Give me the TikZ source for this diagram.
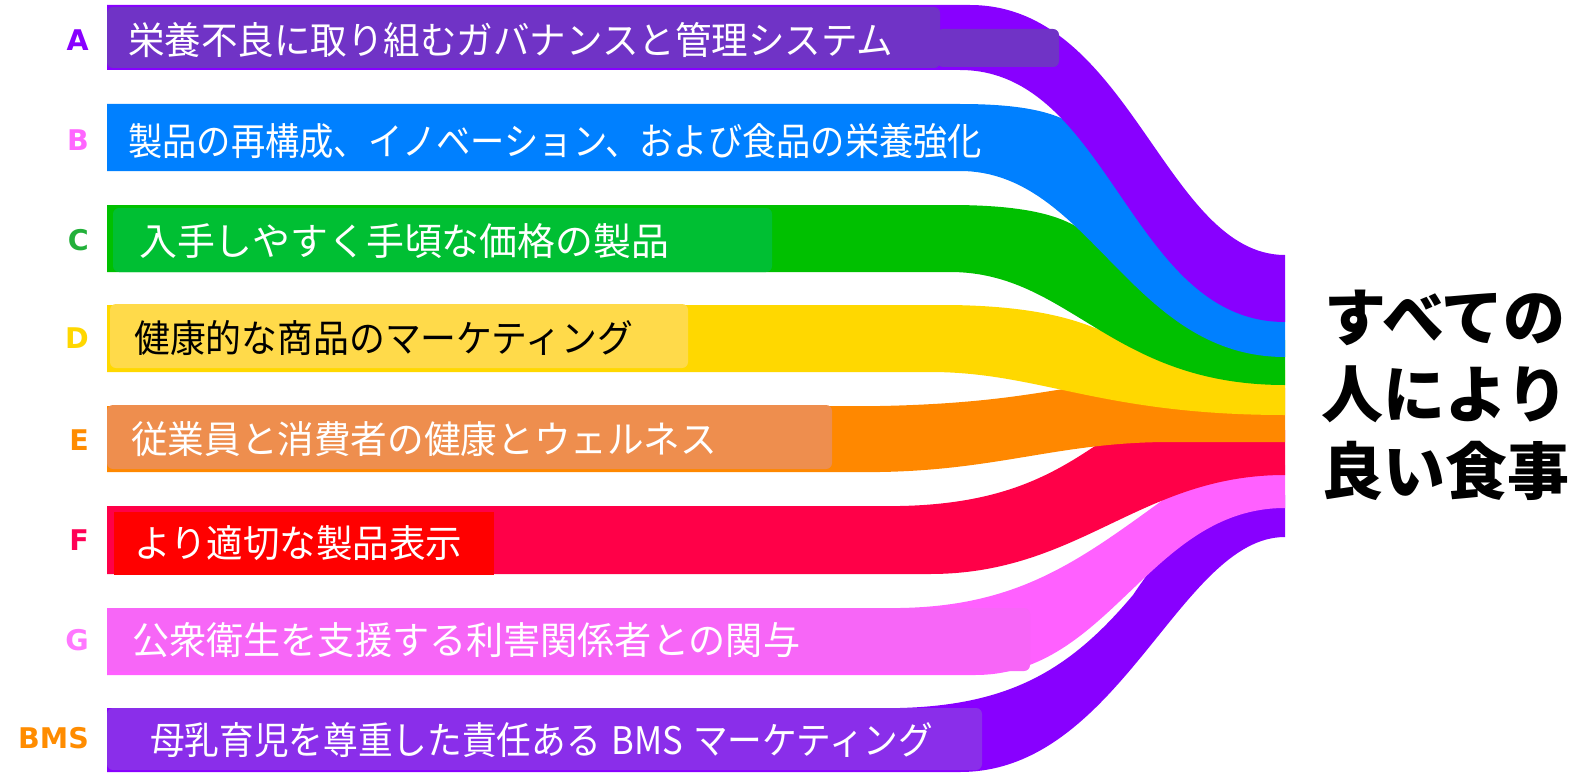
\documentclass[tikz,border=0pt]{standalone}
\usepackage{fontspec}
\usepackage{graphicx}
\setmainfont{Noto Sans CJK JP}
\newfontfamily\latf{DejaVu Sans}
\definecolor{rA}{HTML}{8800FF}
\definecolor{rB}{HTML}{0080FF}
\definecolor{rC}{HTML}{00C000}
\definecolor{rD}{HTML}{FFD800}
\definecolor{rE}{HTML}{FF8800}
\definecolor{rF}{HTML}{FF0048}
\definecolor{rG}{HTML}{FF60FF}
\definecolor{rH}{HTML}{8800FF}
\definecolor{bA}{HTML}{7033C6}
\definecolor{bC}{HTML}{00BF33}
\definecolor{bD}{HTML}{FFDA4A}
\definecolor{bE}{HTML}{EE8E4E}
\definecolor{bF}{HTML}{FF0000}
\definecolor{bG}{HTML}{F766F7}
\definecolor{bH}{HTML}{8A2EEA}
\definecolor{lB}{HTML}{FF66FF}
\definecolor{lC}{HTML}{22B03A}
\definecolor{lD}{HTML}{FFD700}
\definecolor{lE}{HTML}{FF8C00}
\definecolor{lF}{HTML}{FF0055}
\definecolor{lG}{HTML}{FF77FF}
\tikzset{
  lbl/.style={anchor=west, inner sep=0pt, text=white, font=\fontsize{38}{40}\selectfont},
  letr/.style={anchor=east, inner sep=0pt, font=\latf\bfseries\fontsize{28.5}{30}\selectfont},
  tbox/.style={rounded corners=6pt},
}
\newcommand{\fitw}[2]{\resizebox{#1pt}{\height}{#2}}
\begin{document}
\begin{tikzpicture}[x=1pt,y=-1pt]
\useasboundingbox (0,0) rectangle (1590,773);
% ribbons, drawn bottom to top
\fill[rH] (107,708) -- (900,708) .. controls (1010,705) and (1070,670) .. (1133,595) .. controls (1170,540) and (1210,495) .. (1285,495) -- (1285,537) .. controls (1180,537) and (1120,772) .. (960,772) -- (107,772) -- cycle;
\fill[rG] (107,608) -- (900,608) .. controls (1020,606) and (1080,560) .. (1167,497) .. controls (1200,475) and (1240,465) .. (1285,465) -- (1285,508) .. controls (1150,508) and (1110,675) .. (975,675) -- (107,675) -- cycle;
\fill[rF] (107,506) -- (900,506) .. controls (1000,504) and (1050,476) .. (1095,446) .. controls (1130,435) and (1200,430) .. (1285,430) -- (1285,475) .. controls (1140,475) and (1080,574) .. (930,574) -- (107,574) -- cycle;
\fill[rE] (107,406) -- (880,406) .. controls (980,404) and (1030,394) .. (1070,388) -- (1285,388) -- (1285,442) -- (1170,442) .. controls (1060,442) and (1000,470) .. (880,472) -- (107,472) -- cycle;
\fill[rD] (107,305) -- (950,305) .. controls (1030,306) and (1070,318) .. (1095,328) .. controls (1150,350) and (1200,365) .. (1285,370) -- (1285,415) .. controls (1100,415) and (1040,372) .. (930,372) -- (107,372) -- cycle;
\fill[rC] (107,205) -- (950,205) .. controls (1040,205) and (1070,220) .. (1090,236) .. controls (1140,280) and (1200,330) .. (1285,340) -- (1285,385) .. controls (1110,385) and (1070,272) .. (950,272) -- (107,272) -- cycle;
\fill[rB] (107,104) -- (960,104) .. controls (1060,104) and (1080,125) .. (1100,150) .. controls (1150,210) and (1200,290) .. (1285,300) -- (1285,357) .. controls (1130,357) and (1090,171) .. (960,171) -- (107,171) -- cycle;
\fill[rA] (107,5) -- (970,5) .. controls (1130,5) and (1165,255) .. (1285,255) -- (1285,322) .. controls (1130,322) and (1110,70) .. (960,70) -- (107,70) -- cycle;
% text boxes
\fill[bA, tbox] (107,7) rectangle (940,68);
\fill[bA, tbox] (937,29) rectangle (1059,67);
\fill[bC, tbox] (113,208) rectangle (772,272);
\fill[bD, tbox] (110,304) rectangle (688,368);
\fill[bE, tbox] (107,405) rectangle (832,469);
\fill[bF] (114,512) rectangle (494,575);
\fill[bG, tbox] (107,608) rectangle (1030,671);
\fill[bH, tbox] (107,708) rectangle (982,770);
% texts
\node[lbl] (tA) at (128,40) {\fitw{765}{栄養不良に取り組むガバナンスと管理システム}};
\node[lbl] (tB) at (128,141) {\fitw{854}{製品の再構成、イノベーション、および食品の栄養強化}};
\node[lbl] (tC) at (139,241) {\fitw{530}{入手しやすく手頃な価格の製品}};
\node[lbl, text=black] (tD) at (134,338) {\fitw{499}{健康的な商品のマーケティング}};
\node[lbl] (tE) at (131,439) {\fitw{586}{従業員と消費者の健康とウェルネス}};
\node[lbl] (tF) at (134,543) {\fitw{328}{より適切な製品表示}};
\node[lbl] (tG) at (132,640) {\fitw{668}{公衆衛生を支援する利害関係者との関与}};
\node[lbl] (tH) at (150,740) {\fitw{783}{母乳育児を尊重した責任ある\hspace{0.3em}BMS\hspace{0.3em}マーケティング}};
% letters
\node[letr, text=rA] (lA) at (89,40) {A};
\node[letr, text=lB] (lB) at (89,140) {B};
\node[letr, text=lC] (lC) at (89,240) {C};
\node[letr, text=lD] (lD) at (89,338) {D};
\node[letr, text=lE] (lE) at (89,440) {E};
\node[letr, text=lF] (lF) at (89,540) {F};
\node[letr, text=lG] (lG) at (89,640) {G};
\node[letr, text=lE] (lH) at (89,738) {BMS};
% goal
\node[align=center, inner sep=0pt, font=\bfseries\fontsize{62}{77}\selectfont] (goal) at (1445,395) {すべての\\人により\\良い食事};
\end{tikzpicture}
\end{document}
